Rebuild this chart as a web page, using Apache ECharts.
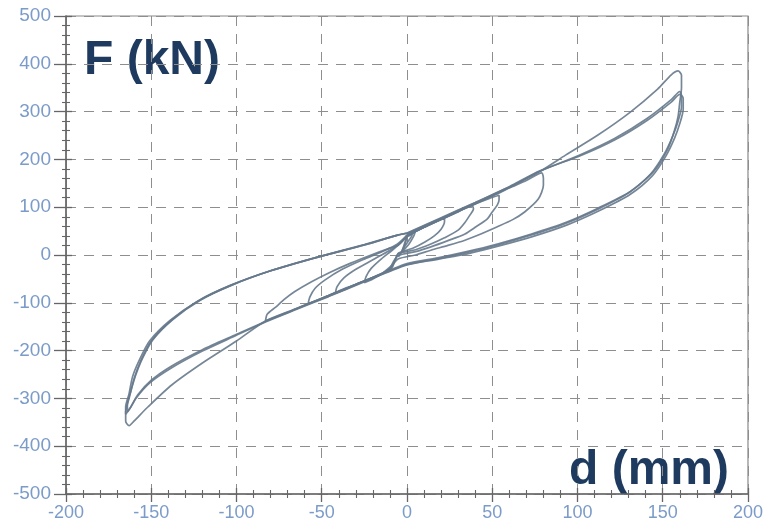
<!DOCTYPE html>
<html>
<head>
<meta charset="utf-8">
<script src="https://cdn.jsdelivr.net/npm/echarts@6/dist/echarts.min.js"></script>
<style>
html,body{margin:0;padding:0;background:#fff;}
#chart{width:766px;height:527px;}
</style>
</head>
<body>
<div id="chart"></div>
<script>
// Axis ticks
const xTicks = [-200, -150, -100, -50, 0, 50, 100, 150, 200];
const yTicks = [-500, -400, -300, -200, -100, 0, 100, 200, 300, 400, 500];

// Hysteresis loops: [d (mm), F (kN)]
const loopSmallA = [[0,38],[3,44],[5,50],[4,40],[1,22],[-2,10],[-4,2],[-5,-4],[-3,8],[-1,24],[0,38]];
const loopSmallB = [[0,40],[2,46],[3,42],[1,30],[-2,14],[-3,8],[-2,18],[0,40]];

const loop20 = [[0,40],[5,49],[10,58],[15,67],[22,78],[22,70],[20,54],[16,40],[10.5,27],[4,15],[-2,8],[-5,4],
  [-7,-10],[-9,-26],[-15,-40],[-20,-50],[-25,-58],[-24,-45],[-21,-28],[-15,-8],[-8,12],[-3,28],[0,40]];

const loop40 = [[0,40],[10,58],[20,74],[30,90],[38,104],[39,96],[37,84],[34,68],[30,52],[22,36],[14,23],[5,11],[-5,3],
  [-7,-12],[-9,-27],[-15,-40],[-27,-57],[-35,-70],[-42,-80],[-41,-66],[-37,-48],[-30,-30],[-20,-10],[-10,10],[-4,25],[0,40]];

const loop60 = [[0,41],[10,58],[20,75],[30,91],[40,107],[48,118],[54,125],[54,115],[53,105],[50,90],[47,75],[40,58],[34,44],
  [24,30],[14,17],[5,7],[-5,-1],[-8,-14],[-10,-28],[-16,-41],[-27,-57],[-38,-72],[-46,-85],[-52,-94],[-58,-102],
  [-57,-88],[-54,-70],[-48,-52],[-38,-30],[-26,-10],[-14,8],[-6,22],[0,41]];

const loop80 = [[0,42],[10,58],[20,75],[30,91],[40,107],[50,123],[60,140],[70,156],[79,172],[80,160],[80,146],[77,117],
  [69,90],[62,74],[53,59],[44,45],[34,31],[24,20],[14,10],[5,0],[-5,-8],[-9,-22],[-16,-42],[-27,-57],[-46,-85],
  [-58,-102],[-70,-120],[-83,-138],[-82,-124],[-77,-109],[-72,-93],[-66,-77],[-56,-56],[-45,-36],[-33,-17],
  [-21,0],[-12,12],[-5,21],[0,42]];

const loop160a = [[0,44],[20,76],[40,108],[60,141],[78,175],[93,209],[112,251],[131,299],[147,347],[155,377],[159,385],
  [161,376],[161,350],[160,320],[159,290],[157,262],[153,222],[145,176],[131,133],[112,98],[93,68],[73,44],[53,23],
  [35,7],[18,-6],[0,-18],[-27,-57],[-46,-85],[-65,-112],[-83,-138],[-100,-180],[-120,-226],[-138,-272],[-152,-318],
  [-160,-347],[-163,-357],[-165,-348],[-165,-328],[-163,-300],[-160,-258],[-156,-220],[-150,-180],[-138,-136],
  [-122,-95],[-103,-63],[-80,-33],[-54,-6],[-25,22],[-5,42],[0,46]];

const loop160b = [[0,45],[20,77],[40,109],[60,142],[78,175],[102,210],[122,244],[141,286],[155,325],[160,342],[161,334],
  [161,310],[159,280],[156,250],[151,212],[143,170],[130,130],[112,96],[93,66],[73,42],[53,21],[35,5],[18,-8],[0,-20],
  [-27,-58],[-46,-86],[-65,-113],[-83,-139],[-100,-166],[-120,-198],[-138,-232],[-150,-262],[-158,-293],[-162,-318],
  [-164,-328],[-164,-312],[-162,-285],[-159,-250],[-155,-215],[-149,-177],[-137,-134],[-121,-94],[-102,-62],
  [-79,-32],[-53,-5],[-24,22],[-5,42],[0,45]];

const loop160c = [[0,46],[20,78],[40,110],[60,143],[78,176],[102,208],[122,241],[141,282],[155,320],[160,336],[162,328],
  [162,305],[160,275],[157,245],[152,208],[144,166],[131,127],[113,93],[94,63],[74,39],[54,19],[36,3],[18,-9],[0,-21],
  [-27,-59],[-46,-87],[-65,-114],[-83,-140],[-100,-168],[-120,-201],[-138,-236],[-151,-268],[-159,-300],[-163,-324],
  [-165,-333],[-165,-318],[-163,-290],[-161,-255],[-157,-220],[-151,-180],[-139,-137],[-123,-97],[-104,-64],
  [-81,-34],[-55,-7],[-26,20],[-6,41],[0,46]];

const loops = [loopSmallA, loopSmallB, loop20, loop40, loop60, loop80, loop160a, loop160b, loop160c];

const labelColor = '#7b9bc8';
const axisColor = '#666666';
const curveColor = '#66798c';

const chart = echarts.init(document.getElementById('chart'), null, {renderer: 'canvas'});

function xAxisDef(inside) {
  return {
    type: 'value', min: xTicks[0], max: xTicks[xTicks.length - 1], interval: 50, position: 'bottom',
    axisLine: {show: !inside, onZero: false, lineStyle: {color: axisColor, width: 1.5}},
    axisTick: {show: true, inside: inside, length: inside ? 6 : 8, lineStyle: {color: axisColor, width: 1.3}},
    minorTick: {show: true, splitNumber: 5, length: 4, lineStyle: {color: axisColor, width: 1.1}},
    axisLabel: {show: !inside, color: labelColor, fontSize: 18, fontFamily: 'Liberation Sans', margin: 10},
    splitLine: {show: !inside, lineStyle: {type: [10, 8], color: '#8e8e8e', width: 1}},
    minorSplitLine: {show: false}
  };
}
function yAxisDef(inside) {
  return {
    type: 'value', min: yTicks[0], max: yTicks[yTicks.length - 1], interval: 100, position: 'left',
    axisLine: {show: !inside, onZero: false, lineStyle: {color: axisColor, width: 1.5}},
    axisTick: {show: true, inside: inside, length: inside ? 6 : 12, lineStyle: {color: axisColor, width: 1.3}},
    minorTick: {show: true, splitNumber: 5, length: 4, lineStyle: {color: axisColor, width: 1.1}},
    axisLabel: {show: !inside, color: labelColor, fontSize: 19, fontFamily: 'Liberation Sans', margin: 15},
    splitLine: {show: !inside, lineStyle: {type: [10, 8], color: '#8e8e8e', width: 1}},
    minorSplitLine: {show: false}
  };
}

const series = loops.map(function (d) {
  return {
    type: 'line', xAxisIndex: 0, yAxisIndex: 0, data: d, showSymbol: false, smooth: 0.25,
    lineStyle: {color: curveColor, width: 1.7, opacity: 0.9}, silent: true
  };
});

chart.setOption({
  animation: false,
  backgroundColor: '#ffffff',
  grid: {left: 66, right: 16, top: 16, bottom: 33, show: true, borderColor: '#8a8a8a', borderWidth: 1.2, backgroundColor: 'transparent'},
  xAxis: [xAxisDef(false), xAxisDef(true)],
  yAxis: [yAxisDef(false), yAxisDef(true)],
  series: series,
  graphic: [
    {type: 'text', left: 84, top: 37, style: {text: 'F (kN)', font: 'bold 48px "Liberation Sans", Arial, sans-serif', fill: '#1f3a5f'}},
    {type: 'text', left: 569, top: 447, style: {text: 'd (mm)', font: 'bold 48px "Liberation Sans", Arial, sans-serif', fill: '#1f3a5f'}}
  ]
});
</script>
</body>
</html>
